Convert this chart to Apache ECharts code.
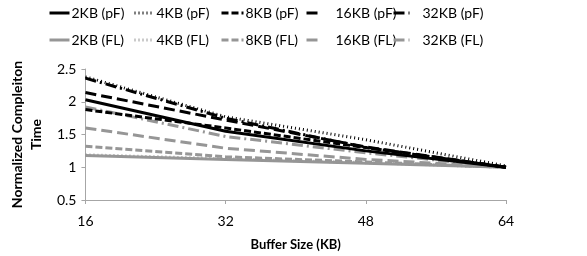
<!DOCTYPE html>
<html>
<head>
<meta charset="utf-8">
<script src="https://cdn.jsdelivr.net/npm/echarts@6/dist/echarts.min.js"></script>
<style>
  html, body { margin: 0; padding: 0; background: #fff; }
  #main { width: 587px; height: 256px; }
</style>
</head>
<body>
<div id="main"></div>
<script type="text/javascript">
// buffer sizes (KB)
var bufferSizes = [16, 32, 48, 64];
var xTicks = [16, 32, 48, 64];
var yTicks = [0.5, 1, 1.5, 2, 2.5];

// normalized completion time
var pF2KB  = [2.03, 1.55, 1.25, 1.00];
var pF4KB  = [2.38, 1.77, 1.42, 1.02];
var pF8KB  = [1.88, 1.60, 1.30, 1.00];
var pF16KB = [2.14, 1.72, 1.31, 1.00];
var pF32KB = [2.36, 1.75, 1.30, 1.00];
var FL2KB  = [1.18, 1.12, 1.06, 1.00];
var FL4KB  = [1.19, 1.13, 1.07, 1.00];
var FL8KB  = [1.32, 1.16, 1.08, 1.00];
var FL16KB = [1.60, 1.29, 1.12, 1.00];
var FL32KB = [1.92, 1.47, 1.22, 1.00];

var seriesNames = ['2KB (pF)', '4KB (pF)', '8KB (pF)', '16KB (pF)', '32KB (pF)',
                   '2KB (FL)', '4KB (FL)', '8KB (FL)', '16KB (FL)', '32KB (FL)'];
var seriesData = [pF2KB, pF4KB, pF8KB, pF16KB, pF32KB, FL2KB, FL4KB, FL8KB, FL16KB, FL32KB];

var dashes = ['solid', [1, 3], [7, 3], [11, 5], [11, 4, 2, 4]];
var legendLeft = [48, 133, 220, 305, 392];
var legendIconW = [20, 20, 22, 16, 16];
var legendTextPad = [-3, -3, -3, 8, 8];
var font = 'Lato, "Open Sans", sans-serif';

var myChart = echarts.init(document.getElementById('main'));

var series = [];
var legends = [];
for (var i = 0; i < seriesNames.length; i++) {
    var k = i % 5;
    var row = Math.floor(i / 5);
    var col = row === 0 ? '#000000' : '#969696';
    series.push({
        name: seriesNames[i],
        type: 'line',
        symbol: 'none',
        z: row === 0 ? 3 : 2,
        lineStyle: { width: 3, color: col, type: dashes[k] },
        itemStyle: { color: col },
        data: bufferSizes.map(function (x, j) { return [x, seriesData[i][j]]; })
    });
    legends.push({
        data: [seriesNames[i]],
        left: legendLeft[k],
        top: row === 0 ? 6 : 33,
        itemWidth: legendIconW[k],
        itemHeight: 14,
        itemGap: 0,
        padding: 0,
        itemStyle: { opacity: 0 },
        lineStyle: { width: 3, color: col, type: dashes[k] },
        textStyle: { fontFamily: font, fontSize: 14, color: '#000', padding: [0, 0, 0, legendTextPad[k]] }
    });
}

var option = {
    animation: false,
    legend: legends,
    grid: { left: 79, right: 81, top: 69, bottom: 56 },
    xAxis: {
        type: 'value',
        min: 16,
        max: 64,
        interval: 16,
        name: 'Buffer Size (KB)',
        nameLocation: 'middle',
        nameGap: 38,
        nameTextStyle: { fontFamily: font, fontSize: 13, fontWeight: 'bold', color: '#000' },
        axisLine: { lineStyle: { color: '#a6a6a6', width: 1 } },
        axisTick: { show: true, length: 4, lineStyle: { color: '#a6a6a6' } },
        axisLabel: {
            fontFamily: font, fontSize: 14, color: '#000', margin: 14,
            formatter: function (v) { return xTicks.indexOf(v) >= 0 ? String(v) : ''; }
        },
        splitLine: { show: false }
    },
    yAxis: {
        type: 'value',
        min: 0.5,
        max: 2.5,
        interval: 0.5,
        name: 'Normalized Compleiton\nTime',
        nameLocation: 'middle',
        nameGap: 35,
        nameTextStyle: { fontFamily: font, fontSize: 14, fontWeight: 'bold', color: '#000', lineHeight: 19 },
        axisLine: { show: true, lineStyle: { color: '#a6a6a6', width: 1 } },
        axisTick: { show: true, length: 4, lineStyle: { color: '#a6a6a6' } },
        axisLabel: {
            fontFamily: font, fontSize: 14, color: '#000', margin: 9,
            formatter: function (v) { return yTicks.indexOf(v) >= 0 ? String(v) : ''; }
        },
        splitLine: { show: false }
    },
    series: series
};
myChart.setOption(option);
</script>
</body>
</html>
